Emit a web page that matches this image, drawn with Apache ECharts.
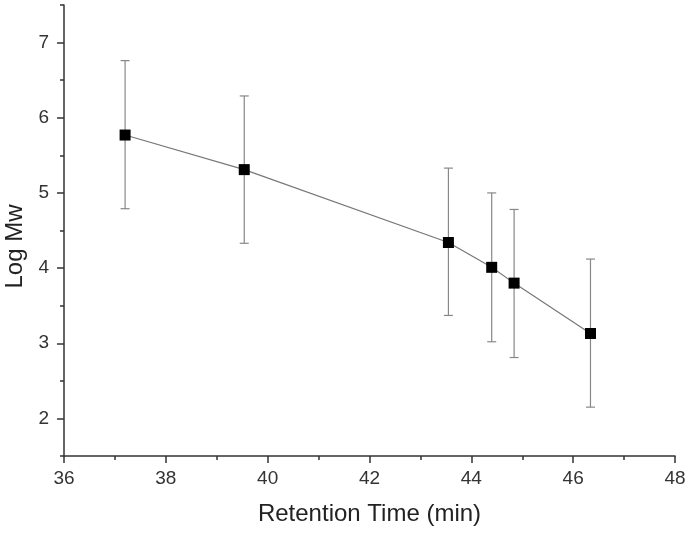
<!DOCTYPE html>
<html>
<head>
<meta charset="utf-8">
<script src="https://cdn.jsdelivr.net/npm/echarts@6/dist/echarts.min.js"></script>
<style>html,body{margin:0;padding:0;background:#fff}#c{width:690px;height:534px}</style>
</head>
<body>
<div id="c"></div>
<script>
const retentionTime = [37.20, 39.54, 43.55, 44.40, 44.84, 46.34];
const logMw = [5.77, 5.31, 4.34, 4.01, 3.80, 3.13];
const errLow = [4.79, 4.33, 3.37, 3.02, 2.81, 2.15];
const errHigh = [6.76, 6.29, 5.33, 5.00, 4.78, 4.12];
const yTicks = [2, 3, 4, 5, 6, 7];
const yMinorTicks = [1.5, 2.5, 3.5, 4.5, 5.5, 6.5, 7.5];

const chart = echarts.init(document.getElementById('c'));
const font = 'Liberation Sans, Arial, sans-serif';
const axisCol = '#333';
chart.setOption({
  animation: false,
  grid: {left: 64, right: 15, top: 5, bottom: 78, containLabel: false, outerBoundsMode: 'none'},
  xAxis: {
    type: 'value', min: 36, max: 48, interval: 2,
    name: 'Retention Time (min)', nameLocation: 'middle', nameGap: 46,
    nameTextStyle: {fontFamily: font, fontSize: 24, color: '#222'},
    axisLine: {onZero: false, lineStyle: {color: axisCol, width: 1.5}},
    axisTick: {length: 7, lineStyle: {color: axisCol, width: 1.5}},
    minorTick: {show: true, splitNumber: 2, length: 4, lineStyle: {color: axisCol, width: 1.5}},
    axisLabel: {fontFamily: font, fontSize: 19, color: '#333', margin: 13},
    splitLine: {show: false}
  },
  yAxis: [{
    type: 'value', min: 1.5, max: 7.5,
    name: 'Log Mw', nameLocation: 'middle', nameGap: 37,
    nameTextStyle: {fontFamily: font, fontSize: 24, color: '#222', padding: [0, 32, 0, 0]},
    axisLine: {onZero: false, lineStyle: {color: axisCol, width: 1.5}},
    axisTick: {length: 7, customValues: yTicks, lineStyle: {color: axisCol, width: 1.5}},
    axisLabel: {fontFamily: font, fontSize: 19, color: '#333', margin: 15, customValues: yTicks},
    splitLine: {show: false}
  }, {
    type: 'value', min: 1.5, max: 7.5, position: 'left',
    axisLine: {show: false},
    axisTick: {length: 4, customValues: yMinorTicks, lineStyle: {color: axisCol, width: 1.5}},
    axisLabel: {show: false},
    splitLine: {show: false}
  }],
  series: [{
    type: 'custom',
    data: retentionTime.map((x, i) => [x, errLow[i], errHigh[i]]),
    renderItem: function (params, api) {
      const lo = api.coord([api.value(0), api.value(1)]);
      const hi = api.coord([api.value(0), api.value(2)]);
      const w = 4.5;
      const st = {stroke: '#888', lineWidth: 1.2};
      return {type: 'group', children: [
        {type: 'line', shape: {x1: lo[0], y1: lo[1], x2: hi[0], y2: hi[1]}, style: st},
        {type: 'line', shape: {x1: lo[0] - w, y1: lo[1], x2: lo[0] + w, y2: lo[1]}, style: st},
        {type: 'line', shape: {x1: hi[0] - w, y1: hi[1], x2: hi[0] + w, y2: hi[1]}, style: st}
      ]};
    },
    z: 1
  }, {
    type: 'line',
    data: retentionTime.map((x, i) => [x, logMw[i]]),
    symbol: 'rect', symbolSize: 11,
    itemStyle: {color: '#000'},
    lineStyle: {color: '#777', width: 1.2},
    z: 3
  }]
});
</script>
</body>
</html>
